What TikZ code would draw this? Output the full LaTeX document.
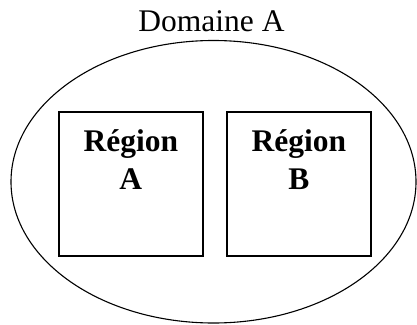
\documentclass[tikz,border=0pt]{standalone}
\usepackage{fontspec}
\setmainfont{Liberation Serif}
\usetikzlibrary{shapes.geometric}
\tikzset{
  domainellipse/.style={draw=black, line width=1.1pt, ellipse, inner sep=0pt},
  regionbox/.style={draw=black, line width=1.3pt, rectangle, minimum width=144pt, minimum height=144pt, inner sep=0pt},
  titletext/.style={font=\fontsize{31.5}{36}\selectfont, anchor=base, inner sep=0pt},
  regionlbl/.style={font=\fontsize{31.5}{36}\selectfont\bfseries, anchor=base, inner sep=0pt}
}
\begin{document}
\begin{tikzpicture}[x=1pt, y=-1pt]
\useasboundingbox (0,0) rectangle (417,324);
\node[domainellipse, minimum width=405pt, minimum height=282.5pt] (dom) at (213.5,181.75) {};
\node[titletext] (t) at (211.5,31.7) {Domaine A};
\node[regionbox] (ra) at (130.85,183.85) {};
\node[regionbox] (rb) at (298.85,183.85) {};
\node[regionlbl] (ra1) at (130.85,151.7) {Région};
\node[regionlbl] (ra2) at (130.85,189.3) {A};
\node[regionlbl] (rb1) at (298.85,151.7) {Région};
\node[regionlbl] (rb2) at (298.85,189.3) {B};
\end{tikzpicture}
\end{document}
